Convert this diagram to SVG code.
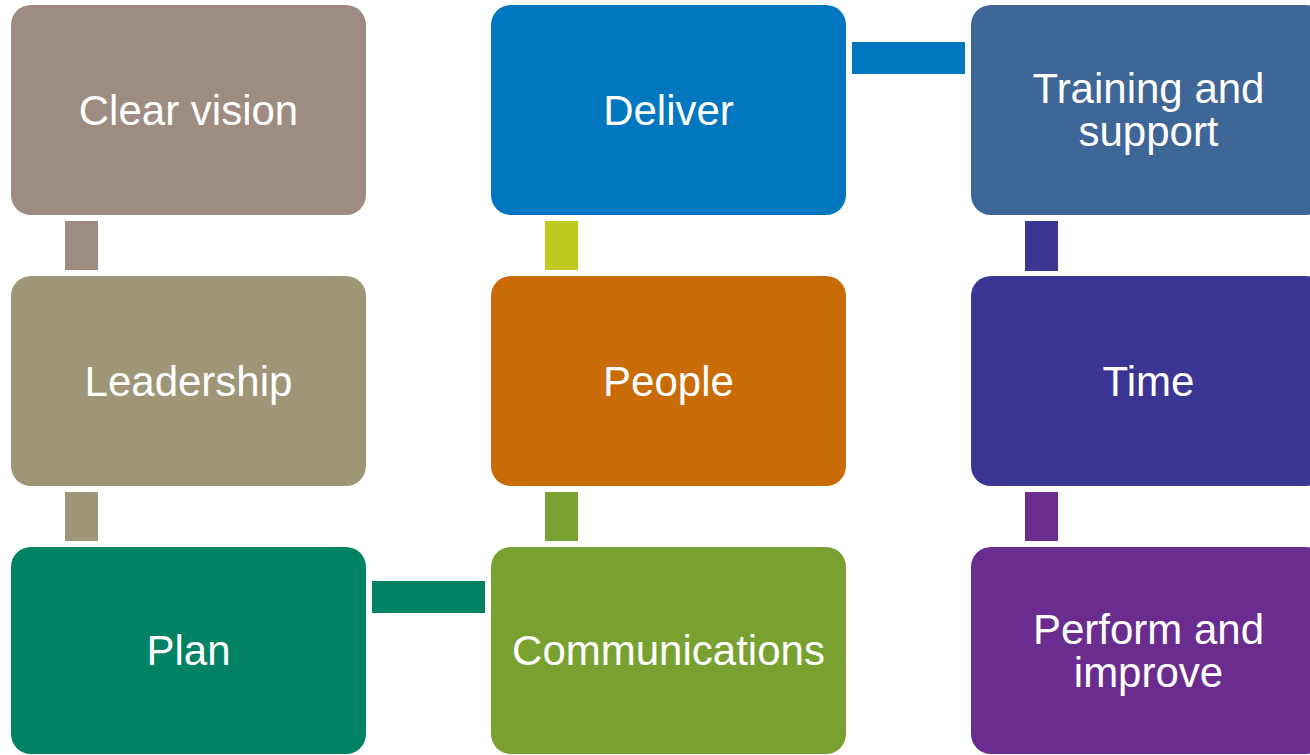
<svg xmlns="http://www.w3.org/2000/svg" width="1310" height="755" viewBox="0 0 1310 755">
<style>
.box text{fill:#fff;font-family:"Liberation Sans",Arial,sans-serif;font-size:42px;text-anchor:middle}
</style>
<rect width="1310" height="755" fill="#fff"/>
<g id="connectors">
<rect x="65" y="221" width="33" height="49" fill="#9E8B82"/>
<rect x="65" y="492" width="33" height="49" fill="#9E9677"/>
<rect x="372" y="581" width="113" height="32" fill="#008264"/>
<rect x="545" y="492" width="33" height="49" fill="#78A131"/>
<rect x="545" y="221" width="33" height="49" fill="#C0CB22"/>
<rect x="852" y="42" width="113" height="32" fill="#0077BE"/>
<rect x="1025" y="221" width="33" height="50" fill="#3B3593"/>
<rect x="1025" y="492" width="33" height="49" fill="#6A2C8F"/>
</g>
<g id="clear-vision" class="box"><rect x="11" y="5" width="355" height="210" rx="20" fill="#9E8B82"/><text x="188.5" y="125">Clear vision</text></g>
<g id="leadership" class="box"><rect x="11" y="276" width="355" height="210" rx="20" fill="#9E9677"/><text x="188.5" y="396">Leadership</text></g>
<g id="plan" class="box"><rect x="11" y="547" width="355" height="207" rx="20" fill="#008264"/><text x="188.5" y="665">Plan</text></g>
<g id="deliver" class="box"><rect x="491" y="5" width="355" height="210" rx="20" fill="#0077BE"/><text x="668.5" y="125">Deliver</text></g>
<g id="people" class="box"><rect x="491" y="276" width="355" height="210" rx="20" fill="#C96B07"/><text x="668.5" y="396">People</text></g>
<g id="communications" class="box"><rect x="491" y="547" width="355" height="207" rx="20" fill="#78A131"/><text x="668.5" y="665">Communications</text></g>
<g id="training" class="box"><rect x="971" y="5" width="355" height="210" rx="20" fill="#3E6697"/><text x="1148.5" y="103">Training and</text><text x="1148.5" y="146">support</text></g>
<g id="time" class="box"><rect x="971" y="276" width="355" height="210" rx="20" fill="#3B3593"/><text x="1148.5" y="396">Time</text></g>
<g id="perform" class="box"><rect x="971" y="547" width="355" height="207" rx="20" fill="#6A2C8F"/><text x="1148.5" y="644">Perform and</text><text x="1148.5" y="687">improve</text></g>
</svg>
